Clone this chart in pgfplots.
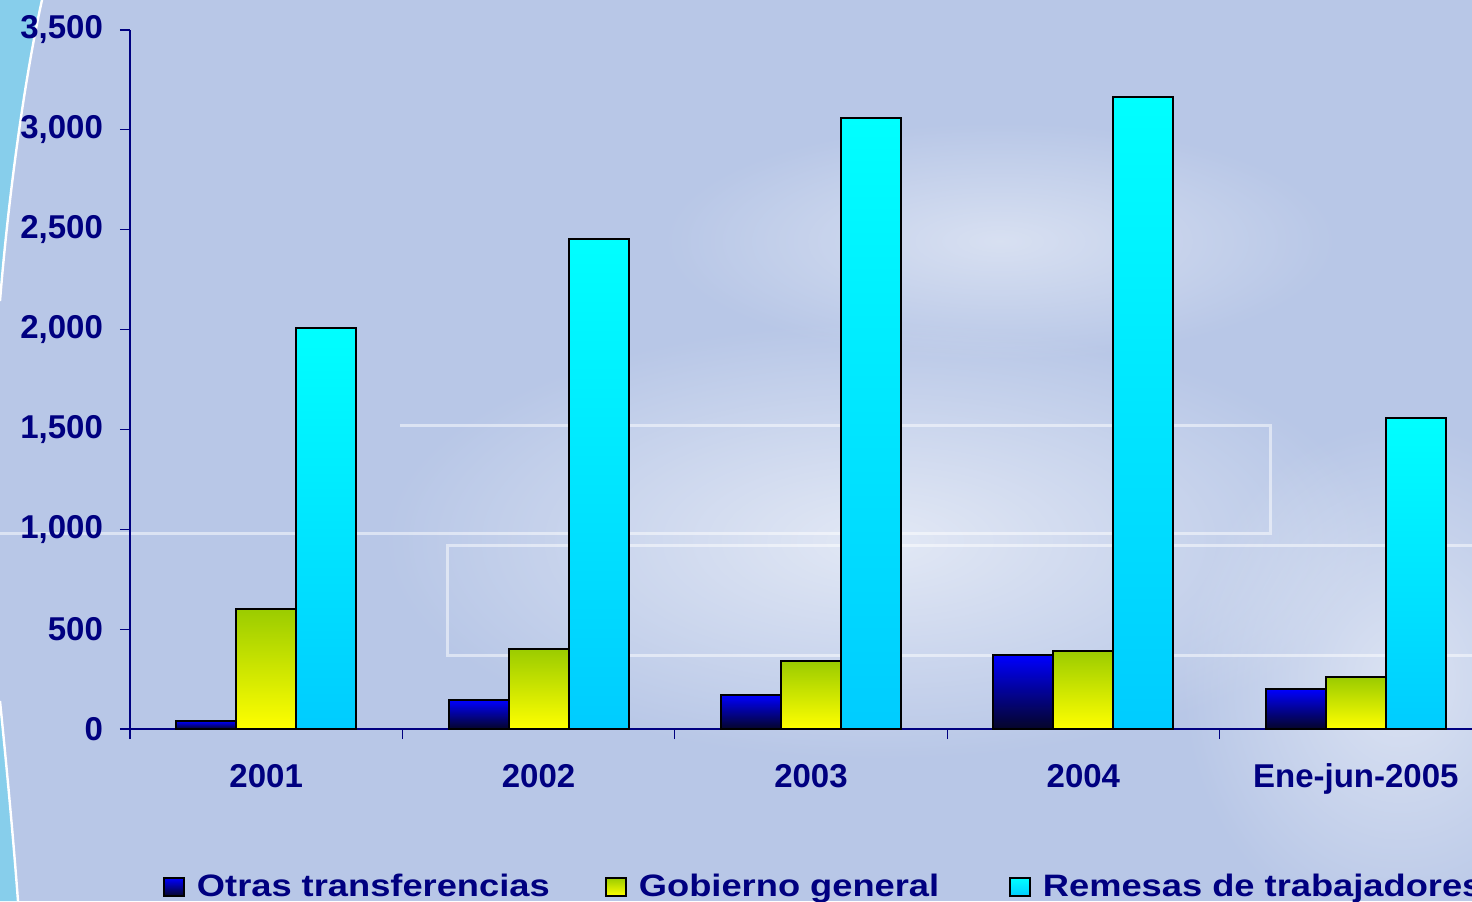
\documentclass[border=0pt]{standalone}
\usepackage{pgfplots}
\pgfplotsset{compat=1.18}
\usepackage{fontspec}
\setmainfont{Liberation Sans}
\usetikzlibrary{fadings}
\tikzfading[name=softfade, inner color=transparent!0, outer color=transparent!100]
\definecolor{navy}{RGB}{0,0,128}
\definecolor{bgc}{RGB}{184,199,231}
\definecolor{band}{RGB}{135,206,235}
\definecolor{otraTop}{RGB}{0,0,255}
\definecolor{otraBot}{RGB}{5,5,40}
\definecolor{gobTop}{RGB}{155,204,0}
\definecolor{gobBot}{RGB}{255,255,0}
\definecolor{remTop}{RGB}{0,255,255}
\definecolor{remBot}{RGB}{0,204,255}
\newcommand{\lbl}{\bfseries\fontsize{16.5}{19}\selectfont}
\newcommand{\lgd}{\bfseries\fontsize{15.5}{18}\selectfont}
\newcommand{\wide}[1]{\scalebox{1.17}[1]{#1}}
\pgfplotsset{
  mylegend/.style={legend image code/.code={\draw[##1, line width=1pt] (0pt,-4.5pt) rectangle (10pt,4.5pt);}},
  barbase/.style={ybar, bar width=30pt, draw=black, line width=1pt, mylegend},
  otras/.style={barbase, bar shift=-30pt, top color=otraTop, bottom color=otraBot},
  gob/.style={barbase, bar shift=0pt, top color=gobTop, bottom color=gobBot},
  rem/.style={barbase, bar shift=30pt, top color=remTop, bottom color=remBot},
}

\begin{document}
\begin{tikzpicture}
\path[use as bounding box, clip] (0,0) rectangle (736pt,450.5pt);
\fill[bgc] (0,0) rectangle (736pt,450.5pt);
% soft light patches of the backdrop
\fill[white, opacity=0.6, path fading=softfade] (440pt,180pt) ellipse (250pt and 110pt);
\fill[white, opacity=0.45, path fading=softfade] (500pt,330pt) ellipse (170pt and 60pt);
\fill[white, opacity=0.5, path fading=softfade] (700pt,110pt) ellipse (110pt and 130pt);
% faint frame lines
\draw[white, opacity=0.5, line width=1.5pt] (0pt,184pt) -- (635pt,184pt) -- (635pt,238pt) -- (200pt,238pt);
\draw[white, opacity=0.5, line width=1.5pt] (736pt,178pt) -- (223.5pt,178pt) -- (223.5pt,123pt) -- (736pt,123pt);
% left bands
\fill[band] (0pt,450.5pt) -- (21pt,450.5pt) .. controls (12pt,410pt) and (4pt,350pt) .. (0pt,300pt) -- cycle;
\draw[white, line width=1.2pt] (21pt,450.5pt) .. controls (12pt,410pt) and (4pt,350pt) .. (0pt,300pt);
\fill[band] (0pt,0pt) -- (9pt,0pt) .. controls (6pt,40pt) and (2pt,80pt) .. (0pt,100pt) -- cycle;
\draw[white, line width=1.2pt] (9pt,0pt) .. controls (6pt,40pt) and (2pt,80pt) .. (0pt,100pt);
\begin{axis}[
  at={(65pt,86pt)}, anchor=south west,
  scale only axis, width=681pt, height=349.5pt,
  xmin=-0.5, xmax=4.5, ymin=0, ymax=3500,
  axis lines*=left,
  axis line style={navy, line width=0.6pt},
  xtick={-0.5,0.5,...,4.5}, xticklabels={},
  extra x ticks={0,1,2,3,4},
  extra x tick labels={2001,2002,2003,2004,Ene-jun-2005},
  extra x tick style={major tick length=0pt, tick label style={yshift=-14pt}},
  ytick={0,500,...,3500},
  tick align=outside,
  major tick length=5pt,
  tick style={navy, line width=0.6pt},
  ticklabel style={font=\lbl, text=navy},
  yticklabel style={xshift=-5pt, /pgf/number format/.cd, fixed, 1000 sep={,}, assume math mode=true},
  legend columns=3,
  legend style={at={(0.0242,-0.226)}, anchor=west, draw=none, fill=none,
    inner sep=0pt, outer sep=0pt, font=\lgd, text=navy,
    nodes={inner sep=0pt},
    /tikz/every odd column/.append style={column sep=6pt}},
]
% Otras transferencias
\addplot[otras] coordinates {(0,40)};
\addlegendentry{\makebox[204pt][l]{\wide{Otras transferencias}}}
% Gobierno general
\addplot[gob] coordinates {(0,600)};
\addlegendentry{\makebox[185pt][l]{\wide{Gobierno general}}}
% Remesas de trabajadores
\addplot[rem] coordinates {(0,2010)};
\addlegendentry{\wide{Remesas de trabajadores}}
% remaining bars (each drawn alone so that each has its own gradient)
\addplot[otras, forget plot] coordinates {(1,145)};
\addplot[otras, forget plot] coordinates {(2,170)};
\addplot[otras, forget plot] coordinates {(3,370)};
\addplot[otras, forget plot] coordinates {(4,200)};
\addplot[gob, forget plot] coordinates {(1,400)};
\addplot[gob, forget plot] coordinates {(2,340)};
\addplot[gob, forget plot] coordinates {(3,392)};
\addplot[gob, forget plot] coordinates {(4,258)};
\addplot[rem, forget plot] coordinates {(1,2452)};
\addplot[rem, forget plot] coordinates {(2,3057)};
\addplot[rem, forget plot] coordinates {(3,3167)};
\addplot[rem, forget plot] coordinates {(4,1557)};
\end{axis}
\end{tikzpicture}
\end{document}
